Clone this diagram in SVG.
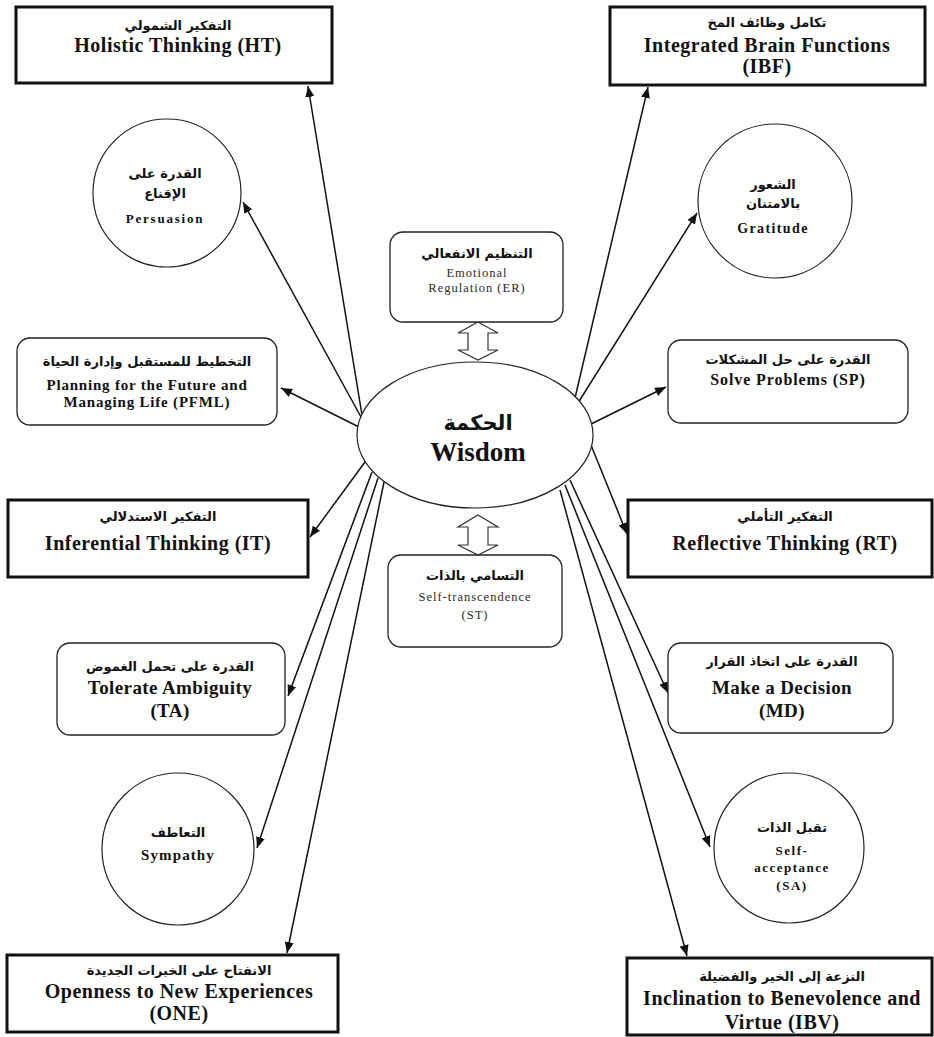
<svg xmlns="http://www.w3.org/2000/svg" width="934" height="1037" viewBox="0 0 934 1037">
<style>
.tb{fill:#fff;stroke:#111;stroke-width:3}
.rb{fill:#fff;stroke:#222;stroke-width:1.3}
.ci{fill:#fff;stroke:#222;stroke-width:1.2}
.ln{stroke:#111;stroke-width:1.5;fill:none;marker-end:url(#ah)}
.da{fill:#fff;stroke:#333;stroke-width:1.2}
.ar{font-family:"DejaVu Sans",sans-serif;font-weight:bold;text-anchor:middle;fill:#111}
.en{font-family:"Liberation Serif",serif;font-weight:bold;text-anchor:middle;fill:#111}
.big{font-size:20px;letter-spacing:0.5px}
.mid{font-size:19px;letter-spacing:0.4px}
.a14{font-size:13px}
.sm{font-family:"Liberation Serif",serif;font-size:12.5px;letter-spacing:1px;text-anchor:middle;fill:#2a2a2a}
</style>
<defs>
<marker id="ah" markerUnits="userSpaceOnUse" markerWidth="11" markerHeight="9" refX="11" refY="4.5" orient="auto">
<path d="M0,0 L11,4.5 L0,9 z" fill="#111"/>
</marker>
</defs>
<rect width="934" height="1037" fill="#fff"/>
<g id="connectors">
<line class="ln" x1="362" y1="415" x2="308" y2="86"/>
<line class="ln" x1="361" y1="417" x2="243" y2="202"/>
<line class="ln" x1="359" y1="427" x2="281" y2="388"/>
<line class="ln" x1="365" y1="462" x2="310" y2="537"/>
<line class="ln" x1="372" y1="472" x2="288" y2="696"/>
<line class="ln" x1="378" y1="478" x2="257" y2="848"/>
<line class="ln" x1="384" y1="482" x2="287" y2="953"/>
<line class="ln" x1="575" y1="398" x2="648" y2="87"/>
<line class="ln" x1="578" y1="403" x2="697" y2="213"/>
<line class="ln" x1="591" y1="424" x2="666" y2="387"/>
<line class="ln" x1="591" y1="445" x2="627" y2="534"/>
<line class="ln" x1="570" y1="480" x2="668" y2="693"/>
<line class="ln" x1="565" y1="485" x2="710" y2="847"/>
<line class="ln" x1="560" y1="490" x2="687" y2="956"/>
<polygon class="da" points="478,322 498,333 488,333 488,350 498,350 478,360 458,350 468,350 468,333 458,333"/>
<polygon class="da" points="478,515 498,527 488,527 488,545 498,545 478,555 458,545 468,545 468,527 458,527"/>
</g>
<g id="wisdom">
<ellipse class="ci" cx="475" cy="435" rx="118" ry="73"/>
<text class="ar" x="478" y="430" font-size="21">الحكمة</text>
<text class="en" x="478" y="461" font-size="27">Wisdom</text>
</g>
<g id="ht">
<rect class="tb" x="16" y="7" width="316" height="76"/>
<text class="ar a14" x="178" y="30">التفكير الشمولي</text>
<text class="en big" x="178" y="52">Holistic Thinking (HT)</text>
</g>
<g id="ibf">
<rect class="tb" x="610" y="7" width="315" height="78"/>
<text class="ar a14" x="767" y="27">تكامل وظائف المخ</text>
<text class="en big" x="767" y="52">Integrated Brain Functions</text>
<text class="en big" x="767" y="73">(IBF)</text>
</g>
<g id="persuasion">
<circle class="ci" cx="167" cy="193" r="74"/>
<text class="ar a14" x="165" y="178">القدرة على</text>
<text class="ar a14" x="165" y="198">الإقناع</text>
<text class="en" x="165" y="223" font-size="13" letter-spacing="1.8">Persuasion</text>
</g>
<g id="gratitude">
<circle class="ci" cx="775" cy="201" r="77"/>
<text class="ar a14" x="773" y="189">الشعور</text>
<text class="ar a14" x="773" y="208">بالامتنان</text>
<text class="en" x="773" y="233" font-size="14" letter-spacing="1.4">Gratitude</text>
</g>
<g id="er">
<rect class="rb" x="390" y="232" width="173" height="90" rx="13"/>
<text class="ar a14" x="477" y="258">التنظيم الانفعالي</text>
<text class="sm" x="477" y="277">Emotional</text>
<text class="sm" x="477" y="292">Regulation (ER)</text>
</g>
<g id="pfml">
<rect class="rb" x="17" y="338" width="260" height="87" rx="13"/>
<text class="ar a14" x="147" y="366">التخطيط للمستقبل وإدارة الحياة</text>
<text class="en" x="147" y="390" font-size="15" letter-spacing="0.8">Planning for the Future and</text>
<text class="en" x="147" y="407" font-size="15" letter-spacing="0.8">Managing Life (PFML)</text>
</g>
<g id="sp">
<rect class="rb" x="668" y="340" width="240" height="83" rx="13"/>
<text class="ar a14" x="788" y="364">القدرة على حل المشكلات</text>
<text class="en" x="788" y="385" font-size="16" letter-spacing="0.9">Solve Problems (SP)</text>
</g>
<g id="it">
<rect class="tb" x="8" y="500" width="300" height="77"/>
<text class="ar a14" x="158" y="521">التفكير الاستدلالي</text>
<text class="en big" x="158" y="550">Inferential Thinking (IT)</text>
</g>
<g id="rt">
<rect class="tb" x="628" y="500" width="304" height="77"/>
<text class="ar a14" x="785" y="521">التفكير التأملي</text>
<text class="en big" x="785" y="550">Reflective Thinking (RT)</text>
</g>
<g id="st">
<rect class="rb" x="388" y="555" width="174" height="92" rx="13"/>
<text class="ar a14" x="475" y="580">التسامي بالذات</text>
<text class="sm" x="475" y="601">Self-transcendence</text>
<text class="sm" x="475" y="619">(ST)</text>
</g>
<g id="ta">
<rect class="rb" x="57" y="643" width="228" height="92" rx="13"/>
<text class="ar a14" x="170" y="671">القدرة على تحمل الغموض</text>
<text class="en mid" x="170" y="694">Tolerate Ambiguity</text>
<text class="en mid" x="170" y="717">(TA)</text>
</g>
<g id="md">
<rect class="rb" x="668" y="643" width="225" height="90" rx="13"/>
<text class="ar a14" x="782" y="666">القدرة على اتخاذ القرار</text>
<text class="en mid" x="782" y="694">Make a Decision</text>
<text class="en mid" x="782" y="717">(MD)</text>
</g>
<g id="sympathy">
<circle class="ci" cx="178" cy="849" r="76"/>
<text class="ar a14" x="178" y="837">التعاطف</text>
<text class="en" x="178" y="860" font-size="15" letter-spacing="1.1">Sympathy</text>
</g>
<g id="sa">
<circle class="ci" cx="789" cy="848" r="75"/>
<text class="ar a14" x="792" y="832">تقبل الذات</text>
<text class="en" x="792" y="855" font-size="13" letter-spacing="1.5">Self-</text>
<text class="en" x="792" y="872" font-size="13" letter-spacing="1.5">acceptance</text>
<text class="en" x="792" y="890" font-size="13" letter-spacing="1.5">(SA)</text>
</g>
<g id="one">
<rect class="tb" x="7" y="955" width="331" height="77"/>
<text class="ar a14" x="179" y="975">الانفتاح على الخبرات الجديدة</text>
<text class="en big" x="179" y="998">Openness to New Experiences</text>
<text class="en big" x="179" y="1020">(ONE)</text>
</g>
<g id="ibv">
<rect class="tb" x="627" y="958" width="305" height="77"/>
<text class="ar a14" x="782" y="981">النزعة إلى الخير والفضيلة</text>
<text class="en big" x="782" y="1005">Inclination to Benevolence and</text>
<text class="en big" x="782" y="1029">Virtue (IBV)</text>
</g>
</svg>
